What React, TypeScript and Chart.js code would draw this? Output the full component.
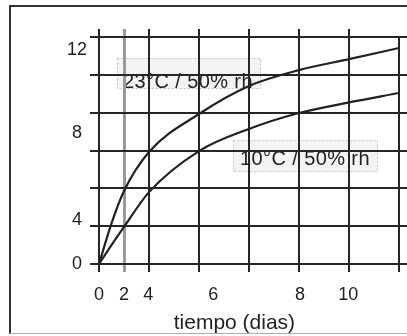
import React, { useEffect, useRef } from "react";
import { Chart, registerables } from "chart.js";

Chart.register(...registerables);

// ---- data ----
const days = [0, 0.5, 1, 2, 4, 6, 8, 10, 12];
const warm23 = [0, 2.15, 3.86, 5.92, 7.93, 9.41, 10.25, 10.83, 11.42];
const cool10 = [0, 1.0, 1.96, 3.8, 5.97, 7.14, 7.98, 8.54, 9.04];
const seriesLabels = ["23°C / 50% rh", "10°C / 50% rh"];

// grid lines
const gridX = [0, 1, 2, 4, 6, 8, 10, 12];
const gridXTop = [0, 1, 2, 4, 6, 8, 10];
const gridY = [0, 2, 4, 6, 8, 10, 12];

// tick labels (as printed, at the places they appear on the scan)
const xTickPos = [0, 1, 1.97, 4.57, 8.04, 9.97];
const xTickText = ["0", "2", "4", "6", "8", "10"];
const yTickPos = [0, 2.33, 6.9, 11.33];
const yTickText = ["0", "4", "8", "12"];
const xTitle = "tiempo (dias)";

// in-plot label boxes, in data units
const labelBoxes = [
  { x0: 0.72, x1: 6.48, y0: 9.25, y1: 10.89, tx: 0.96, ty: 9.57 },
  { x0: 5.36, x1: 11.16, y0: 4.86, y1: 6.55, tx: 5.64, ty: 5.5 },
];

const FAMILY = '"Liberation Sans", Arial, sans-serif';
const INK = "#222222";
const gridColor = (c: any) => (c.tick && c.tick.value === 1 ? "#9a9a9a" : "#262626");
const gridWidth = (c: any) => (c.tick && c.tick.value === 1 ? 3 : 2);

const labelPlugin = {
  id: "curveLabels",
  beforeDraw(chart: any) {
    const { ctx, scales } = chart;
    const x = scales.x;
    const y = scales.y;
    ctx.save();
    labelBoxes.forEach((b, i) => {
      const left = x.getPixelForValue(b.x0);
      const right = x.getPixelForValue(b.x1);
      const top = y.getPixelForValue(b.y1);
      const bottom = y.getPixelForValue(b.y0);
      ctx.fillStyle = "#f3f3f3";
      ctx.fillRect(left, top, right - left, bottom - top);
      ctx.setLineDash([2, 2]);
      ctx.strokeStyle = "#c4c4c4";
      ctx.lineWidth = 1;
      ctx.strokeRect(left + 0.5, top + 0.5, right - left - 1, bottom - top - 1);
      ctx.setLineDash([]);
      ctx.font = `20px ${FAMILY}`;
      try {
        (ctx as any).letterSpacing = "0.4px";
      } catch (e) {}
      ctx.fillStyle = INK;
      ctx.textBaseline = "middle";
      ctx.textAlign = "left";
      ctx.fillText(seriesLabels[i], x.getPixelForValue(b.tx), y.getPixelForValue(b.ty));
    });
    ctx.restore();
  },
};

export default function App() {
  const ref = useRef<HTMLCanvasElement>(null);

  useEffect(() => {
    const chart = new Chart(ref.current as HTMLCanvasElement, {
      type: "line",
      data: {
        datasets: [
          {
            label: seriesLabels[0],
            data: days.map((d, i) => ({ x: d, y: warm23[i] })),
            borderColor: INK,
            borderWidth: 2.2,
            pointRadius: 0,
            cubicInterpolationMode: "monotone",
            fill: false,
          },
          {
            label: seriesLabels[1],
            data: days.map((d, i) => ({ x: d, y: cool10[i] })),
            borderColor: INK,
            borderWidth: 2.2,
            pointRadius: 0,
            cubicInterpolationMode: "monotone",
            fill: false,
          },
        ],
      },
      options: {
        responsive: false,
        animation: false,
        layout: { padding: { top: 29, left: 0, right: 0, bottom: 0 } },
        plugins: {
          legend: { display: false },
          tooltip: { enabled: false },
          title: { display: false },
        },
        scales: {
          x: {
            type: "linear",
            position: "bottom",
            min: 0,
            max: 12,
            weight: 0,
            afterBuildTicks: (s: any) => {
              s.ticks = gridX.map((v) => ({ value: v }));
            },
            afterFit: (s: any) => {
              s.height = 8;
            },
            grid: { color: gridColor, lineWidth: gridWidth, tickLength: 8 },
            border: { display: false },
            ticks: { display: false },
          },
          xLab: {
            type: "linear",
            position: "bottom",
            min: 0,
            max: 12,
            weight: 1,
            afterBuildTicks: (s: any) => {
              s.ticks = xTickPos.map((v) => ({ value: v }));
            },
            afterFit: (s: any) => {
              s.height = 64;
            },
            grid: { display: false, drawTicks: false, tickLength: 0 },
            border: { display: false },
            ticks: {
              callback: (_v: any, i: number) => xTickText[i],
              autoSkip: false,
              maxRotation: 0,
              padding: 12,
              color: INK,
              font: { size: 18, family: FAMILY },
            },
            title: {
              display: true,
              text: xTitle + "     ",
              color: INK,
              font: { size: 21, family: FAMILY },
              padding: { top: 0, bottom: 0 },
            },
          },
          xTop: {
            type: "linear",
            position: "top",
            min: 0,
            max: 12,
            afterBuildTicks: (s: any) => {
              s.ticks = gridXTop.map((v) => ({ value: v }));
            },
            afterFit: (s: any) => {
              s.height = 8;
            },
            grid: { drawOnChartArea: false, color: gridColor, lineWidth: gridWidth, tickLength: 8 },
            border: { display: false },
            ticks: { display: false },
          },
          y: {
            type: "linear",
            position: "left",
            min: 0,
            max: 12,
            weight: 0,
            afterBuildTicks: (s: any) => {
              s.ticks = gridY.map((v) => ({ value: v }));
            },
            afterFit: (s: any) => {
              s.width = 9;
            },
            grid: { color: "#262626", lineWidth: 2, tickLength: 9 },
            border: { display: false },
            ticks: { display: false },
          },
          yLab: {
            type: "linear",
            position: "left",
            min: 0,
            max: 12,
            weight: 1,
            afterBuildTicks: (s: any) => {
              s.ticks = yTickPos.map((v) => ({ value: v }));
            },
            afterFit: (s: any) => {
              s.width = 90;
            },
            grid: { display: false, drawTicks: false, tickLength: 0 },
            border: { display: false },
            ticks: {
              callback: (_v: any, i: number) => yTickText[i],
              autoSkip: false,
              crossAlign: "center",
              padding: 3,
              color: INK,
              font: { size: 18, family: FAMILY },
            },
          },
          yR: {
            type: "linear",
            position: "right",
            min: 0,
            max: 12,
            afterBuildTicks: (s: any) => {
              s.ticks = gridY.map((v) => ({ value: v }));
            },
            afterFit: (s: any) => {
              s.width = 8;
            },
            grid: { drawOnChartArea: false, color: "#262626", lineWidth: 2, tickLength: 8 },
            border: { display: false },
            ticks: { display: false },
          },
        },
      } as any,
      plugins: [labelPlugin],
    });
    return () => chart.destroy();
  }, []);

  return (
    <div style={{ position: "fixed", left: 0, top: 0, width: 407, height: 336, background: "#fff" }}>
      <canvas ref={ref} width={407} height={336} style={{ display: "block", width: 407, height: 336 }} />
      <div
        style={{
          position: "absolute",
          left: 9,
          top: 5,
          width: 398,
          height: 329,
          boxSizing: "border-box",
          borderLeft: "2px solid #333",
          borderTop: "2px solid #333",
          borderBottom: "1px solid #b0b0b0",
          pointerEvents: "none",
        }}
      />
    </div>
  );
}
